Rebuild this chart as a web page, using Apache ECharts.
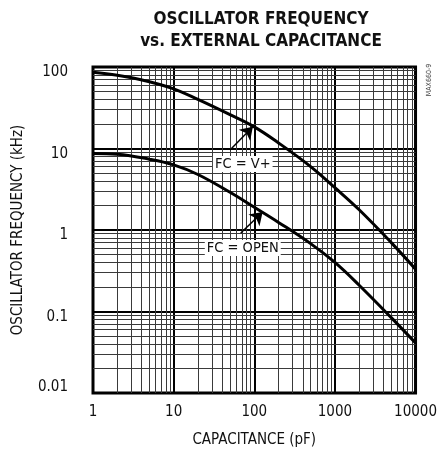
<!DOCTYPE html>
<html>
<head>
<meta charset="utf-8">
<script src="https://cdn.jsdelivr.net/npm/echarts@6/dist/echarts.min.js"></script>
<style>
html,body{margin:0;padding:0;background:#fff;}
#chart{width:440px;height:456px;}
</style>
</head>
<body>
<div id="chart"></div>
<script>
// ---- data ----
const capacitance = [1, 2, 5, 10, 20, 50, 100, 200, 500, 1000, 2000, 5000, 10000];
const freqFcVplus = [86, 79, 66, 54, 40, 26, 18.4, 11.7, 6.0, 3.3, 1.77, 0.70, 0.33];
const freqFcOpen  = [8.7, 8.5, 7.4, 6.3, 4.8, 2.9, 1.9, 1.24, 0.68, 0.40, 0.21, 0.084, 0.041];
const xTickLabels = ['1', '10', '100', '1000', '10000'];
const yTickLabels = ['0.01', '0.1', '1', '10', '100'];
const labelVplus = 'FC = V+';
const labelOpen = 'FC = OPEN';

// annotation anchors (data space)
const arrowVplus = [[50, 9.6], [96, 18.5]];
const arrowOpen = [[68, 0.92], [127, 1.66]];
const textVplusAt = [72, 6.45];
const textOpenAt = [72, 0.6];

// log minor grid values
function minorValues(lo, hi) {
  const out = [];
  for (let d = lo; d < hi; d *= 10) {
    for (let k = 2; k <= 9; k++) out.push(+(k * d).toPrecision(6));
  }
  return out;
}
const xMinor = minorValues(1, 10000);
const yMinor = minorValues(0.01, 100);

const FONT = "'DejaVu Sans Condensed', 'Liberation Sans', sans-serif";
const fmt = v => String(+Number(v).toPrecision(6));

const chart = echarts.init(document.getElementById('chart'), null, {renderer: 'canvas'});

const option = {
  backgroundColor: '#fff',
  animation: false,
  textStyle: {fontFamily: FONT},
  title: {
    text: 'OSCILLATOR FREQUENCY\nvs. EXTERNAL CAPACITANCE',
    left: 256,
    top: 4,
    textAlign: 'center',
    textStyle: {fontFamily: FONT, fontWeight: 'bold', fontSize: 17, lineHeight: 22, color: '#111'}
  },
  grid: {
    left: 93, right: 20, top: 67, bottom: 63,
    show: true, borderColor: '#000', borderWidth: 3, backgroundColor: 'transparent'
  },
  xAxis: {
    type: 'log', logBase: 10, min: 1, max: 10000,
    name: 'CAPACITANCE (pF)', nameLocation: 'middle', nameGap: 40,
    nameTextStyle: {fontFamily: FONT, fontSize: 15, color: '#111'},
    axisLine: {show: false}, axisTick: {show: false},
    axisLabel: {
      fontFamily: FONT, fontSize: 15, color: '#111', margin: 12,
      formatter: v => { const s = fmt(v); return xTickLabels.includes(s) ? s : ''; }
    },
    splitLine: {show: true, lineStyle: {color: '#000', width: 2}}
  },
  yAxis: {
    type: 'log', logBase: 10, min: 0.01, max: 100,
    name: 'OSCILLATOR FREQUENCY (kHz)', nameLocation: 'middle', nameGap: 67,
    nameTextStyle: {fontFamily: FONT, fontSize: 15, color: '#111'},
    axisLine: {show: false}, axisTick: {show: false},
    axisLabel: {
      fontFamily: FONT, fontSize: 15, color: '#111', margin: 25,
      formatter: v => {
        const s = fmt(v);
        if (!yTickLabels.includes(s)) return '';
        return s === '0.01' ? '{lo|' + s + '}' : '{hi|' + s + '}';
      },
      rich: {
        hi: {fontFamily: FONT, fontSize: 15, color: '#111', padding: [11, 0, 0, 0]},
        lo: {fontFamily: FONT, fontSize: 15, color: '#111', padding: [0, 0, 12, 0]}
      }
    },
    splitLine: {show: true, lineStyle: {color: '#000', width: 2}}
  },
  graphic: [{
    type: 'text', x: 429, y: 80, rotation: Math.PI / 2,
    style: {text: 'MAX660-9', fontFamily: FONT, fontSize: 7, fill: '#444', align: 'center', verticalAlign: 'middle'}
  }],
  series: [
    {
      type: 'line', data: [], z: 1, silent: true,
      markLine: {
        silent: true, symbol: 'none', animation: false,
        label: {show: false},
        lineStyle: {color: '#3a3a3a', width: 1, type: 'solid'},
        emphasis: {disabled: true},
        data: xMinor.map(v => ({xAxis: v})).concat(yMinor.map(v => ({yAxis: v})))
      }
    },
    {
      name: labelVplus, type: 'line', z: 5, smooth: 0.4, symbol: 'none',
      lineStyle: {color: '#000', width: 3},
      data: capacitance.map((c, i) => [c, freqFcVplus[i]]),
      markLine: {
        silent: true, symbol: ['none', 'arrow'], symbolSize: 12, animation: false,
        label: {show: false},
        lineStyle: {color: '#000', width: 1.5, type: 'solid'},
        data: [[{coord: arrowVplus[0]}, {coord: arrowVplus[1]}]]
      },
      markPoint: {
        silent: true, symbol: 'rect', symbolSize: 1, animation: false,
        itemStyle: {color: 'transparent'},
        label: {show: true, position: 'inside', formatter: labelVplus, color: '#111',
          fontFamily: FONT, fontSize: 14.5, backgroundColor: '#fff', padding: [1, 2, 0, 2]},
        data: [{coord: textVplusAt}]
      }
    },
    {
      name: labelOpen, type: 'line', z: 5, smooth: 0.4, symbol: 'none',
      lineStyle: {color: '#000', width: 3},
      data: capacitance.map((c, i) => [c, freqFcOpen[i]]),
      markLine: {
        silent: true, symbol: ['none', 'arrow'], symbolSize: 12, animation: false,
        label: {show: false},
        lineStyle: {color: '#000', width: 1.5, type: 'solid'},
        data: [[{coord: arrowOpen[0]}, {coord: arrowOpen[1]}]]
      },
      markPoint: {
        silent: true, symbol: 'rect', symbolSize: 1, animation: false,
        itemStyle: {color: 'transparent'},
        label: {show: true, position: 'inside', formatter: labelOpen, color: '#111',
          fontFamily: FONT, fontSize: 14.5, backgroundColor: '#fff', padding: [1, 2, 0, 2]},
        data: [{coord: textOpenAt}]
      }
    }
  ]
};
chart.setOption(option);
</script>
</body>
</html>
